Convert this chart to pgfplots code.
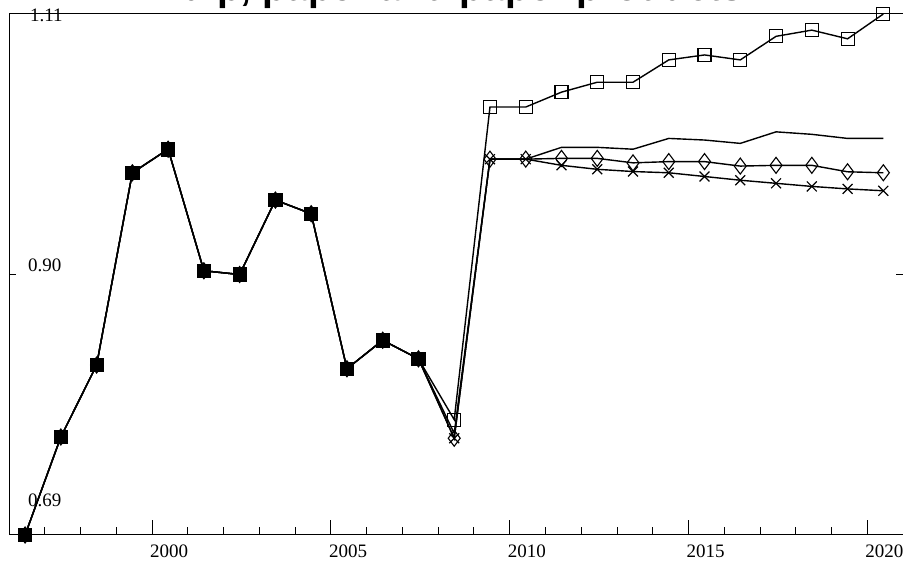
\documentclass[border=0pt]{standalone}
\usepackage{pgfplots}
\pgfplotsset{compat=1.18}
\usepackage{fontspec}
\setmainfont{Liberation Serif}
\newfontfamily\titlefont{Liberation Sans}

\begin{document}
\begin{tikzpicture}
\begin{axis}[
  scale only axis, width=894pt, height=521pt,
  at={(0pt,0pt)}, anchor=south west,
  xmin=1996, xmax=2021, ymin=0.69, ymax=1.11,
  axis line style={line width=1pt, black},
  xtick={2000,2005,2010,2015,2020},
  minor xtick={1997,1998,1999,2001,2002,2003,2004,2006,2007,2008,2009,2011,2012,2013,2014,2016,2017,2018,2019},
  xtick pos=left,
  ytick={0.9}, ytick pos=both, yticklabels={},
  tick align=inside,
  major tick length=15pt, minor tick length=8pt,
  ytick style={/pgfplots/major tick length=7pt},
  tick style={line width=0.8pt, black},
  xticklabel style={font=\fontsize{19}{19}\selectfont, anchor=north west, inner sep=0pt, xshift=-2pt, yshift=-10pt},
  /pgf/number format/assume math mode=true,
  /pgf/number format/1000 sep={},
  clip=false,
]
% square series
\addplot[black, line width=1.4pt, mark=square, mark size=6.5pt, mark options={line width=1.1pt, solid}] coordinates {
(1996.45,0.690) (1997.45,0.769) (1998.45,0.827) (1999.45,0.982) (2000.45,1.001)
(2001.45,0.903) (2002.45,0.900) (2003.45,0.960) (2004.45,0.949) (2005.45,0.824)
(2006.45,0.847) (2007.45,0.832) (2008.45,0.783) (2009.45,1.035) (2010.45,1.035)
(2011.45,1.047) (2012.45,1.055) (2013.45,1.055) (2014.45,1.073) (2015.45,1.077)
(2016.45,1.073) (2017.45,1.092) (2018.45,1.097) (2019.45,1.090) (2020.45,1.110)
};
% plain line series
\addplot[black, line width=1.4pt, mark=none] coordinates {
(1996.45,0.690) (1997.45,0.769) (1998.45,0.827) (1999.45,0.982) (2000.45,1.001)
(2001.45,0.903) (2002.45,0.900) (2003.45,0.960) (2004.45,0.949) (2005.45,0.824)
(2006.45,0.847) (2007.45,0.832) (2008.45,0.772) (2009.45,0.993) (2010.45,0.993)
(2011.45,1.0025) (2012.45,1.0025) (2013.45,1.001) (2014.45,1.0097) (2015.45,1.0084)
(2016.45,1.0057) (2017.45,1.015) (2018.45,1.013) (2019.45,1.0097) (2020.45,1.0097)
};
% diamond series
\addplot[black, line width=1.4pt, mark=diamond, mark size=8pt, mark options={line width=1.1pt, solid}] coordinates {
(1996.45,0.690) (1997.45,0.769) (1998.45,0.827) (1999.45,0.982) (2000.45,1.001)
(2001.45,0.903) (2002.45,0.900) (2003.45,0.960) (2004.45,0.949) (2005.45,0.824)
(2006.45,0.847) (2007.45,0.832) (2008.45,0.768) (2009.45,0.993) (2010.45,0.993)
(2011.45,0.9936) (2012.45,0.9936) (2013.45,0.990) (2014.45,0.991) (2015.45,0.991)
(2016.45,0.9874) (2017.45,0.988) (2018.45,0.988) (2019.45,0.9828) (2020.45,0.982)
};
% x series
\addplot[black, line width=1.4pt, mark=x, mark size=7pt, mark options={line width=1.2pt, solid}] coordinates {
(1996.45,0.690) (1997.45,0.769) (1998.45,0.827) (1999.45,0.982) (2000.45,1.001)
(2001.45,0.903) (2002.45,0.900) (2003.45,0.960) (2004.45,0.949) (2005.45,0.824)
(2006.45,0.847) (2007.45,0.832) (2008.45,0.768) (2009.45,0.993) (2010.45,0.993)
(2011.45,0.988) (2012.45,0.9848) (2013.45,0.983) (2014.45,0.982) (2015.45,0.979)
(2016.45,0.976) (2017.45,0.9735) (2018.45,0.971) (2019.45,0.969) (2020.45,0.9675)
};
% overlapping markers of the common segment
\addplot[only marks, black, mark=square*, mark size=6.5pt, mark options={fill=black}] coordinates {
(1996.45,0.690) (1997.45,0.769) (1998.45,0.827) (1999.45,0.982) (2000.45,1.001)
(2001.45,0.903) (2002.45,0.900) (2003.45,0.960) (2004.45,0.949) (2005.45,0.824)
(2006.45,0.847) (2007.45,0.832)
};
\node[anchor=west, inner sep=0pt, font=\fontsize{19}{19}\selectfont] at (rel axis cs:0,0) [xshift=21pt, yshift=520pt] {1.11};
\node[anchor=west, inner sep=0pt, font=\fontsize{19}{19}\selectfont] at (rel axis cs:0,0) [xshift=19pt, yshift=270pt] {0.90};
\node[anchor=west, inner sep=0pt, font=\fontsize{19}{19}\selectfont] at (rel axis cs:0,0) [xshift=19pt, yshift=35pt] {0.69};
\end{axis}
\node[anchor=base, inner sep=0pt, font=\titlefont\bfseries\fontsize{39}{39}\selectfont] at (441pt,534pt) {Pulp, paper and paper products};
\pgfresetboundingbox
\useasboundingbox (-9pt,-27pt) rectangle (894pt,535pt);
\end{tikzpicture}
\end{document}
